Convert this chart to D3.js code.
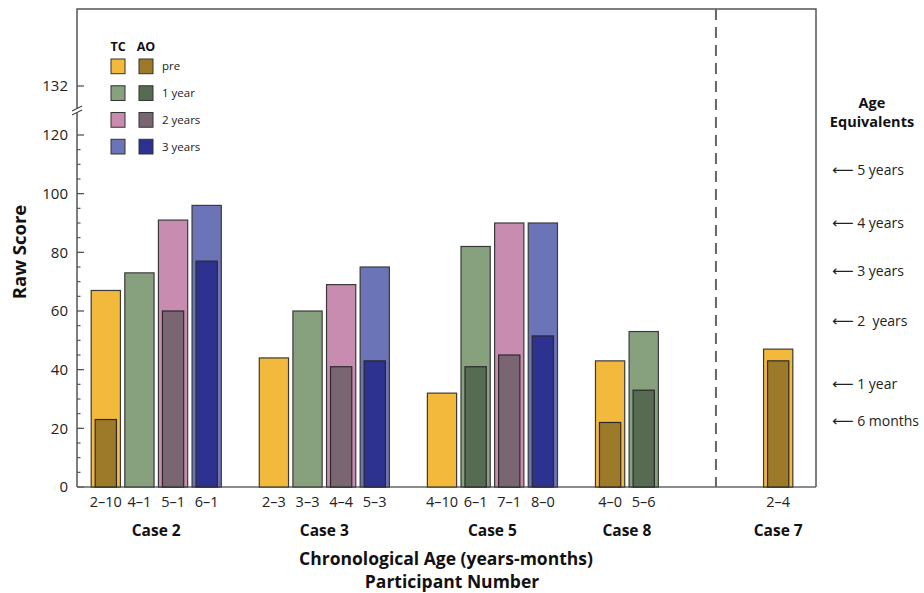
<!DOCTYPE html>
<html>
<head>
<meta charset="utf-8">
<script src="https://cdn.jsdelivr.net/npm/d3@7"></script>
<style>
  html, body { margin: 0; padding: 0; background: #fff; }
  svg { display: block; font-family: "Open Sans", "Noto Sans", sans-serif; }
  .tick-label { font-size: 15px; fill: #222; }
  .bar-label { font-size: 14.5px; fill: #222; }
  .case-label { font-size: 15.5px; font-weight: 700; fill: #111; }
  .axis-title { font-size: 17.5px; font-weight: 700; fill: #111; }
  .legend-head { font-size: 12.5px; font-weight: 700; fill: #111; }
  .legend-text { font-size: 11.5px; fill: #222; }
  .age-eq { font-size: 14px; fill: #222; white-space: pre; }
  .age-eq .arrow { font-family: "DejaVu Sans", sans-serif; font-size: 15px; }
</style>
</head>
<body>
<div id="chart"></div>
<script>
// ---------------------------------------------------------------------------
// Data
// ---------------------------------------------------------------------------

const cases = ["Case 2", "Case 3", "Case 5", "Case 8", "Case 7"];
const separatedCase = "Case 7";   // drawn to the right of the dashed divider

const barCase = [
  "Case 2", "Case 2", "Case 2", "Case 2",
  "Case 3", "Case 3", "Case 3", "Case 3",
  "Case 5", "Case 5", "Case 5", "Case 5",
  "Case 8", "Case 8",
  "Case 7",
];
const barAge = [
  "2–10", "4–1", "5–1", "6–1",
  "2–3", "3–3", "4–4", "5–3",
  "4–10", "6–1", "7–1", "8–0",
  "4–0", "5–6",
  "2–4",
];
const barPhase = [
  "pre", "1 year", "2 years", "3 years",
  "pre", "1 year", "2 years", "3 years",
  "pre", "1 year", "2 years", "3 years",
  "pre", "1 year",
  "pre",
];
// TC = wide bars, AO = inner bars
const tcScores = [67, 73, 91, 96, 44, 60, 69, 75, 32, 82, 90, 90, 43, 53, 47];
const aoScores = [23, null, 60, 77, null, null, 41, 43, null, 41, 45, 51.5, 22, 33, 43];

const phases   = ["pre", "1 year", "2 years", "3 years"];
const tcColors = ["#f3b93d", "#87a07e", "#c78caf", "#6a74b7"];
const aoColors = ["#9d7a2a", "#576b52", "#7a6672", "#2d318f"];

const yTicks      = [0, 20, 40, 60, 80, 100, 120, 132];
const yBreakValue = 126;

const ageEqLabels = ["5 years", "4 years", "3 years", "2  years", "1 year", "6 months"];
const ageEqScores = [108, 90, 73.5, 56.5, 35, 22.5];

// ---------------------------------------------------------------------------
// Setup
// ---------------------------------------------------------------------------

const W = 924, H = 593;
const plot = { left: 77, right: 816, top: 9, bottom: 487 };

const svg = d3.select("#chart").append("svg")
  .attr("width", W)
  .attr("height", H)
  .attr("viewBox", `0 0 ${W} ${H}`);

// slot domain: one slot per bar, a spacer between cases, wider gap before the separated case
const slots = [];
const slotOfBar = [];
cases.forEach((c, ci) => {
  if (ci > 0) {
    const gap = c === separatedCase ? 3 : 1;
    for (let g = 0; g < gap; g++) slots.push(`gap-${ci}-${g}`);
  }
  barCase.forEach((bc, i) => {
    if (bc === c) { slotOfBar[i] = `bar-${i}`; slots.push(`bar-${i}`); }
  });
});

const x = d3.scaleBand()
  .domain(slots)
  .range([89, 795])
  .paddingInner(0.13)
  .paddingOuter(0.065);

// broken axis: 0-120 linear, then a compressed segment up to 132
const y = d3.scaleLinear()
  .domain([0, 120, 132])
  .range([plot.bottom, 135, 86]);

const tcColor = d3.scaleOrdinal().domain(phases).range(tcColors);
const aoColor = d3.scaleOrdinal().domain(phases).range(aoColors);

const bars = barAge.map((age, i) => ({
  age, caseName: barCase[i], phase: barPhase[i],
  tc: tcScores[i], ao: aoScores[i], slot: slotOfBar[i],
}));

// ---------------------------------------------------------------------------
// Frame + axes
// ---------------------------------------------------------------------------

svg.append("path")
  .attr("d", `M${plot.left},${plot.bottom} V${plot.top} H${plot.right} V${plot.bottom}`)
  .attr("fill", "none")
  .attr("stroke", "#555")
  .attr("stroke-width", 1.5);

// minor ticks every 5 below the break
const minor = d3.range(5, 120, 5).filter(v => v % 20 !== 0);
svg.append("g").selectAll("line")
  .data(minor)
  .join("line")
  .attr("x1", plot.left).attr("x2", plot.left + 3.5)
  .attr("y1", d => y(d)).attr("y2", d => y(d))
  .attr("stroke", "#555").attr("stroke-width", 1.2);

const yg = svg.append("g");
yg.selectAll("line")
  .data(yTicks)
  .join("line")
  .attr("x1", plot.left).attr("x2", plot.left + 7)
  .attr("y1", d => y(d)).attr("y2", d => y(d))
  .attr("stroke", "#555").attr("stroke-width", 1.3);
yg.selectAll("text")
  .data(yTicks)
  .join("text")
  .attr("class", "tick-label")
  .attr("x", plot.left - 9)
  .attr("y", d => y(d))
  .attr("dy", "0.35em")
  .attr("text-anchor", "end")
  .text(d => d);

// axis break mark "//"
const by = y(yBreakValue);
svg.append("rect")
  .attr("x", plot.left - 3).attr("y", by - 2)
  .attr("width", 6).attr("height", 4)
  .attr("fill", "#fff");
[-2, 2].forEach(off => {
  svg.append("line")
    .attr("x1", plot.left - 5).attr("y1", by + off + 2.5)
    .attr("x2", plot.left + 5).attr("y2", by + off - 2.5)
    .attr("stroke", "#444").attr("stroke-width", 1.2);
});

// x baseline
svg.append("line")
  .attr("x1", plot.left).attr("x2", plot.right)
  .attr("y1", plot.bottom).attr("y2", plot.bottom)
  .attr("stroke", "#666").attr("stroke-width", 1.5);

// dashed divider before the separated case
const lastGap = slots[slots.indexOf(slotOfBar[barCase.indexOf(separatedCase)]) - 2];
const sepX = x(lastGap) + x.bandwidth() / 2 + 5;
svg.append("line")
  .attr("x1", sepX).attr("x2", sepX)
  .attr("y1", plot.top).attr("y2", plot.bottom)
  .attr("stroke", "#666")
  .attr("stroke-width", 2)
  .attr("stroke-dasharray", "11,7");

// ---------------------------------------------------------------------------
// Bars
// ---------------------------------------------------------------------------

const inset = 4;
const barG = svg.append("g");

barG.selectAll("rect.tc")
  .data(bars)
  .join("rect")
  .attr("class", "tc")
  .attr("x", d => x(d.slot))
  .attr("y", d => y(d.tc))
  .attr("width", x.bandwidth())
  .attr("height", d => y(0) - y(d.tc))
  .attr("fill", d => tcColor(d.phase))
  .attr("stroke", "#3a3a3a")
  .attr("stroke-width", 1.2);

barG.selectAll("rect.ao")
  .data(bars.filter(d => d.ao != null))
  .join("rect")
  .attr("class", "ao")
  .attr("x", d => x(d.slot) + inset)
  .attr("y", d => y(d.ao))
  .attr("width", x.bandwidth() - 2 * inset)
  .attr("height", d => y(0) - y(d.ao))
  .attr("fill", d => aoColor(d.phase))
  .attr("stroke", "#2a2a2a")
  .attr("stroke-width", 1.2);

// ---------------------------------------------------------------------------
// X labels
// ---------------------------------------------------------------------------

svg.append("g").selectAll("text")
  .data(bars)
  .join("text")
  .attr("class", "bar-label")
  .attr("x", d => x(d.slot) + x.bandwidth() / 2)
  .attr("y", 507)
  .attr("text-anchor", "middle")
  .text(d => d.age);

svg.append("g").selectAll("text")
  .data(cases)
  .join("text")
  .attr("class", "case-label")
  .attr("x", c => {
    const xs = bars.filter(b => b.caseName === c).map(b => x(b.slot));
    return (d3.min(xs) + d3.max(xs) + x.bandwidth()) / 2;
  })
  .attr("y", 536)
  .attr("text-anchor", "middle")
  .text(c => c);

svg.append("text")
  .attr("class", "axis-title")
  .attr("x", 446).attr("y", 565)
  .attr("text-anchor", "middle")
  .text("Chronological Age (years-months)");

svg.append("text")
  .attr("class", "axis-title")
  .attr("x", 452).attr("y", 588)
  .attr("text-anchor", "middle")
  .text("Participant Number");

svg.append("text")
  .attr("class", "axis-title")
  .attr("transform", `translate(26,${252}) rotate(-90)`)
  .attr("text-anchor", "middle")
  .style("font-size", "18.5px")
  .text("Raw Score");

// ---------------------------------------------------------------------------
// Legend
// ---------------------------------------------------------------------------

const leg = svg.append("g");
const legCols = [118, 146];
const legRow = d3.scaleBand().domain(phases).range([59, 154]).paddingInner(0.45);

leg.selectAll("text.legend-head")
  .data(["TC", "AO"])
  .join("text")
  .attr("class", "legend-head")
  .attr("x", (d, i) => legCols[i])
  .attr("y", 51)
  .attr("text-anchor", "middle")
  .text(d => d);

phases.forEach(p => {
  [tcColor, aoColor].forEach((col, i) => {
    leg.append("rect")
      .attr("x", legCols[i] - 7)
      .attr("y", legRow(p))
      .attr("width", 14)
      .attr("height", legRow.bandwidth())
      .attr("fill", col(p))
      .attr("stroke", "#333")
      .attr("stroke-width", 1);
  });
  leg.append("text")
    .attr("class", "legend-text")
    .attr("x", 162)
    .attr("y", legRow(p) + legRow.bandwidth() / 2)
    .attr("dy", "0.35em")
    .text(p);
});

// ---------------------------------------------------------------------------
// Age equivalents (right margin)
// ---------------------------------------------------------------------------

svg.append("text")
  .attr("class", "axis-title")
  .attr("x", 872).attr("y", 108)
  .attr("text-anchor", "middle")
  .style("font-size", "14.5px")
  .text("Age");
svg.append("text")
  .attr("class", "axis-title")
  .attr("x", 872).attr("y", 127)
  .attr("text-anchor", "middle")
  .style("font-size", "14.5px")
  .text("Equivalents");

const ageEq = svg.append("g").selectAll("text")
  .data(ageEqLabels)
  .join("text")
  .attr("class", "age-eq")
  .attr("x", 832)
  .attr("y", (d, i) => y(ageEqScores[i]))
  .attr("dy", "0.35em");
ageEq.append("tspan").attr("class", "arrow").text("\u27F5");
ageEq.append("tspan").text(d => " " + d);
</script>
</body>
</html>
